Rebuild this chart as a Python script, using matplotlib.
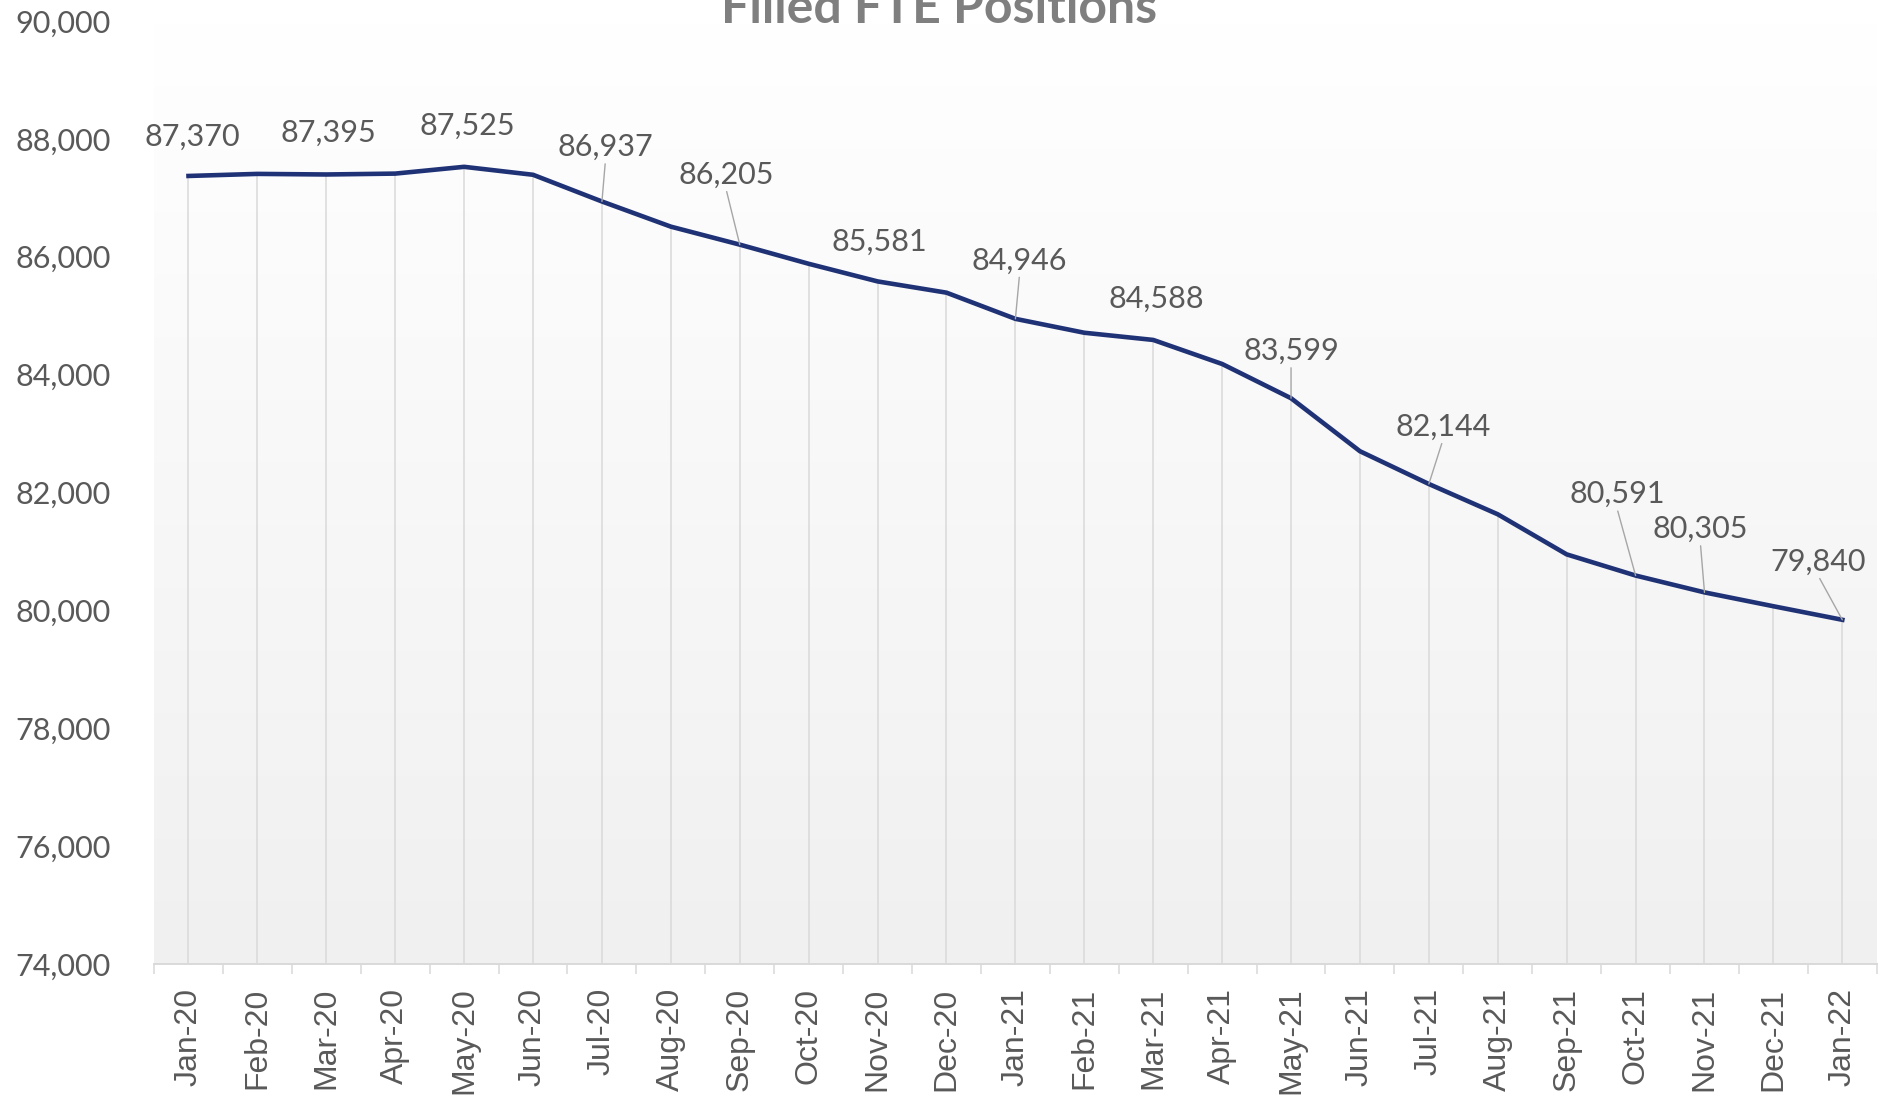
import numpy as np
import matplotlib.pyplot as plt
from matplotlib.colors import LinearSegmentedColormap

months = [
    "Jan-20", "Feb-20", "Mar-20", "Apr-20", "May-20", "Jun-20", "Jul-20",
    "Aug-20", "Sep-20", "Oct-20", "Nov-20", "Dec-20", "Jan-21", "Feb-21",
    "Mar-21", "Apr-21", "May-21", "Jun-21", "Jul-21", "Aug-21", "Sep-21",
    "Oct-21", "Nov-21", "Dec-21", "Jan-22",
]
filled_fte = [
    87370, 87405, 87395, 87410, 87525, 87390, 86937,
    86510, 86205, 85880, 85581, 85390, 84946, 84710,
    84588, 84180, 83599, 82700, 82144, 81630, 80950,
    80591, 80305, 80070, 79840,
]
y_ticks = [74000, 76000, 78000, 80000, 82000, 84000, 86000, 88000, 90000]

# months that carry a data label
labelled = [0, 2, 4, 6, 8, 10, 12, 14, 16, 18, 21, 22, 24]

# label placement (x in category units, y in value units) and whether a leader line is drawn
label_pos = {
    0: (0.05, 88040, False),
    2: (2.03, 88100, False),
    4: (4.04, 88225, False),
    6: (6.05, 87860, True),
    8: (7.80, 87390, True),
    10: (10.02, 86260, False),
    12: (12.06, 85935, True),
    14: (14.04, 85280, False),
    16: (16.00, 84400, True),
    18: (18.20, 83115, True),
    21: (20.73, 81970, True),
    22: (21.94, 81380, True),
    24: (23.65, 80825, True),
}

text_color = "#595959"
line_color = "#203276"
grid_color = "#d9d9d9"

fig = plt.figure(figsize=(18.9, 11.02), dpi=100)
ax = fig.add_axes([0.0815, 0.1252, 0.9115, 0.8558])

x = np.arange(len(months))
ax.set_xlim(-0.5, len(months) - 0.5)
ax.set_ylim(y_ticks[0], y_ticks[-1])

# background gradient of the plot area, white at the top
grad = LinearSegmentedColormap.from_list("bg", ["#ffffff", "#f0f0f0"])
ax.imshow(
    np.linspace(0, 1, 256).reshape(-1, 1),
    cmap=grad,
    aspect="auto",
    origin="upper",
    extent=(-0.5, len(months) - 0.5, y_ticks[0], y_ticks[-1]),
    zorder=0,
)

ax.vlines(x, y_ticks[0], filled_fte, color=grid_color, lw=1.1, zorder=1)
ax.plot(x, filled_fte, color=line_color, lw=3.3, zorder=3, solid_joinstyle="round")

for i in labelled:
    lx, ly, leader = label_pos[i]
    txt = f"{filled_fte[i]:,}"
    if leader:
        ax.annotate(
            txt, xy=(x[i], filled_fte[i]), xytext=(lx, ly),
            ha="center", va="center", fontsize=22, color=text_color,
            fontfamily="Lato", zorder=4,
            arrowprops=dict(arrowstyle="-", color="#a6a6a6", lw=1.0,
                            shrinkA=0, shrinkB=0, relpos=(0.5, 0.0)),
        )
    else:
        ax.text(lx, ly, txt, ha="center", va="center", fontsize=22,
                color=text_color, fontfamily="Lato", zorder=4)

ax.set_yticks(y_ticks)
ax.set_yticklabels([f"{v:,}" for v in y_ticks], fontsize=22, color=text_color,
                   fontfamily="Lato")
ax.tick_params(axis="y", length=0, pad=31)

ax.set_xticks(x)
ax.set_xticklabels(months, rotation=90, fontsize=23, color=text_color,
                   fontfamily="Liberation Sans")
ax.set_xticks(np.arange(-0.5, len(months)), minor=True)
ax.tick_params(axis="x", which="major", length=0, pad=17)
ax.tick_params(axis="x", which="minor", length=7.2, width=1.1, color=grid_color)

for side in ["left", "right", "top"]:
    ax.spines[side].set_visible(False)
ax.spines["bottom"].set_color(grid_color)
ax.spines["bottom"].set_linewidth(1.4)
ax.spines["bottom"].set_zorder(2)

fig.text(0.497, 1 - 23 / 1102, "Filled FTE Positions", ha="center", va="baseline",
         fontsize=36, fontweight="bold", color="#7f7f7f", fontfamily="Lato")

plt.savefig("out.png", dpi=100)
